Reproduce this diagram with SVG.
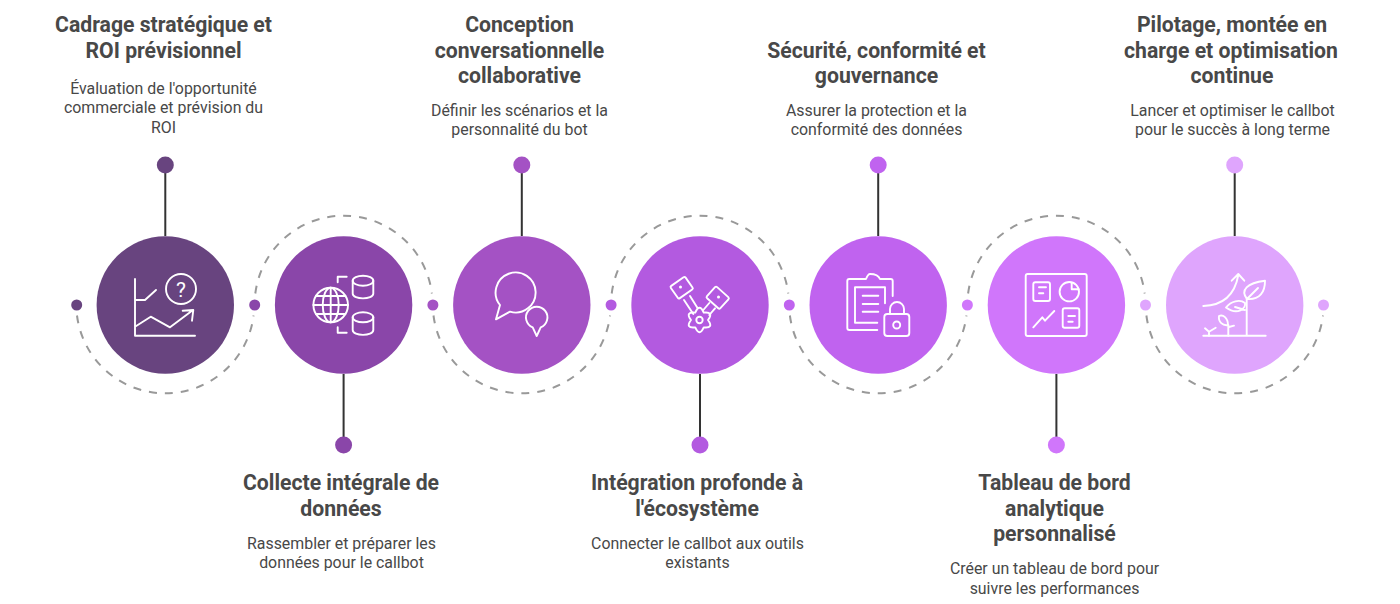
<svg xmlns="http://www.w3.org/2000/svg" width="1400" height="604" viewBox="0 0 1400 604">
<style>
.t{font-family:Roboto,"Liberation Sans",sans-serif;font-weight:700;font-size:21.2px;fill:#484848;text-anchor:middle}
.d{font-family:Roboto,"Liberation Sans",sans-serif;font-size:15.9px;fill:#484848;text-anchor:middle}
.i{fill:none;stroke:#fff;stroke-width:1.9;stroke-linecap:round;stroke-linejoin:round}
.a{fill:none;stroke:#999;stroke-width:2;stroke-dasharray:8 8}
.s{fill:none;stroke:#333;stroke-width:2}
.c1{fill:#68447f}.c2{fill:#8a46a9}.c3{fill:#a452c4}.c4{fill:#b35ae0}.c5{fill:#c063ef}.c6{fill:#d076fb}.c7{fill:#dfa5fd}
</style>
<rect width="1400" height="604" fill="#fff"/>
<g id="connectors">
<path class="a" d="M77,315.500 A89,89 0 0 0 253.600,315.500"/>
<path class="a" d="M255.300,293.500 A89,89 0 0 1 431.900,293.500"/>
<path class="a" d="M433.500,315.500 A89,89 0 0 0 610.100,315.500"/>
<path class="a" d="M611.700,293.500 A89,89 0 0 1 788.300,293.500"/>
<path class="a" d="M789.900,315.500 A89,89 0 0 0 966.500,315.500"/>
<path class="a" d="M968.100,293.500 A89,89 0 0 1 1144.700,293.500"/>
<path class="a" d="M1146.400,315.500 A89,89 0 0 0 1323,315.500"/>
<path class="s" d="M165.300,165V236M343.600,374V445M521.800,165V236M700,374V445M878.200,165V236M1056.400,374V445M1234.700,165V236"/>
<circle class="c1" cx="76.700" cy="305" r="5.500"/>
<circle class="c2" cx="254.700" cy="305" r="5.500"/>
<circle class="c3" cx="432.900" cy="305" r="5.500"/>
<circle class="c4" cx="611.100" cy="305" r="5.500"/>
<circle class="c5" cx="789.300" cy="305" r="5.500"/>
<circle class="c6" cx="967.400" cy="305" r="5.500"/>
<circle class="c7" cx="1145.500" cy="305" r="5.500"/>
<circle class="c7" cx="1323.500" cy="305" r="5.500"/>
</g>
<g id="node1">
<circle class="c1" cx="165.300" cy="305" r="68.700"/>
<circle class="c1" cx="165.300" cy="165" r="8.500"/>
<path class="i" d="M135,279V335.700H195M135,300H145L156,290M135,326.700L150.700,316.700L170,327.300L191.700,311M182.700,310.700L193.300,310L192,320.700"/>
<circle class="i" cx="181" cy="289" r="15"/>
<text x="181" y="296.500" font-family="Roboto,sans-serif" font-size="21" fill="#fff" text-anchor="middle">?</text>
<text class="t" x="163.500" y="32">Cadrage stratégique et</text>
<text class="t" x="163.500" y="57.500">ROI prévisionnel</text>
<text class="d" x="163.500" y="93.500">Évaluation de l'opportunité</text>
<text class="d" x="163.500" y="113">commerciale et prévision du</text>
<text class="d" x="163.500" y="132.500">ROI</text>
</g>
<g id="node2">
<circle class="c2" cx="343.600" cy="305" r="68.700"/>
<circle class="c2" cx="343.600" cy="445" r="8.500"/>
<g class="i">
<circle cx="330.700" cy="305" r="17.300"/>
<ellipse cx="330.700" cy="305" rx="8" ry="17.300"/>
<path d="M313.400,305H348M316,296H345.400M316,314H345.400M330.700,287.700V322.300"/>
<path d="M346.700,276.700H337.700V282.300M337.700,327.300V332.700H346.700"/>
<ellipse cx="363" cy="280.700" rx="10.300" ry="5"/>
<path d="M352.700,280.700V293.500C352.700,300 373.300,300 373.300,293.500V280.700"/>
<ellipse cx="363" cy="317.300" rx="10.300" ry="5"/>
<path d="M352.700,317.300V330C352.700,336.500 373.300,336.500 373.300,330V317.300"/>
</g>
<text class="t" x="341" y="490">Collecte intégrale de</text>
<text class="t" x="341" y="515.500">données</text>
<text class="d" x="341.500" y="549">Rassembler et préparer les</text>
<text class="d" x="341.500" y="568">données pour le callbot</text>
</g>
<g id="node3">
<circle class="c3" cx="521.800" cy="305" r="68.700"/>
<circle class="c3" cx="521.800" cy="165" r="8.500"/>
<g class="i">
<path d="M500,305L496,319.300L510,311.700A20,20 0 1 0 500,305Z"/>
<path d="M532.700,327.300L536.700,336L540.700,327.300A10.700,10.700 0 1 0 532.700,327.300Z"/>
</g>
<text class="t" x="519.500" y="32">Conception</text>
<text class="t" x="519.500" y="57.500">conversationnelle</text>
<text class="t" x="519.500" y="83">collaborative</text>
<text class="d" x="519.500" y="116">Définir les scénarios et la</text>
<text class="d" x="519.500" y="135">personnalité du bot</text>
</g>
<g id="node4">
<circle class="c4" cx="700" cy="305" r="68.700"/>
<circle class="c4" cx="700" cy="445" r="8.500"/>
<g class="i">
<rect x="-9" y="-7.500" width="18" height="15" rx="1.500" transform="translate(681.700,287.700) rotate(-35)"/>
<rect x="-9" y="-7.500" width="18" height="15" rx="1.500" transform="translate(717.700,297.700) rotate(42)"/>
<path d="M684,300L693.300,314M690,296L697.700,308.300M709.300,303L703.300,310M715,308.300L709.300,315"/>
<path transform="translate(699.500,320)" d="M8.500,0Q14.700,8.500 4.250,7.360Q0,17 -4.250,7.360Q-14.700,8.500 -8.500,0Q-14.700,-8.500 -4.250,-7.360Q0,-17 4.250,-7.360Q14.700,-8.500 8.500,0Z"/>
<circle cx="699.500" cy="320" r="3.200"/>
</g>
<circle cx="680.500" cy="287" r="1.500" fill="#fff"/>
<circle cx="718.500" cy="297" r="1.500" fill="#fff"/>
<text class="t" x="697" y="490">Intégration profonde à</text>
<text class="t" x="697" y="515.500">l'écosystème</text>
<text class="d" x="697.500" y="549">Connecter le callbot aux outils</text>
<text class="d" x="697.500" y="568">existants</text>
</g>
<g id="node5">
<circle class="c5" cx="878.200" cy="305" r="68.700"/>
<circle class="c5" cx="878.200" cy="165" r="8.500"/>
<g class="i">
<path d="M877.300,330H849.300Q847.300,330 847.300,328V281Q847.300,279 849.300,279H866Q868,274 870,274Q878,274 880,279H890.700Q892.700,279 892.700,281V296"/>
<path d="M885,303.300V287.300H855V322.700H877.300M862.700,295.700H878.300M862.700,304H878.300M862.700,311.700H878.300"/>
<rect x="884.300" y="314" width="25" height="22" rx="3"/>
<path d="M890,314V309A7,7 0 0 1 904,309V314"/>
<circle cx="896.700" cy="325" r="3.500"/>
</g>
<text class="t" x="876.500" y="57.500">Sécurité, conformité et</text>
<text class="t" x="876.500" y="83">gouvernance</text>
<text class="d" x="876.500" y="116">Assurer la protection et la</text>
<text class="d" x="876.500" y="135">conformité des données</text>
</g>
<g id="node6">
<circle class="c6" cx="1056.400" cy="305" r="68.700"/>
<circle class="c6" cx="1056.400" cy="445" r="8.500"/>
<g class="i">
<rect x="1025.700" y="274" width="61" height="62" rx="2"/>
<rect x="1033.300" y="282.300" width="16.700" height="18.700" rx="2"/>
<path d="M1039,287.300H1046M1039,293.300H1043.300"/>
<circle cx="1069.300" cy="291.700" r="9.700"/>
<path d="M1071.700,283V289.300H1078.700"/>
<path d="M1033.300,327.300L1042.300,317.300L1045,320.700L1054.300,311"/>
<rect x="1062.700" y="308.300" width="16.600" height="19.400" rx="2"/>
<path d="M1068.300,316H1075M1068.300,321.700H1072.700"/>
</g>
<text class="t" x="1054.500" y="490">Tableau de bord</text>
<text class="t" x="1054.500" y="515.500">analytique</text>
<text class="t" x="1054.500" y="541">personnalisé</text>
<text class="d" x="1054.500" y="574">Créer un tableau de bord pour</text>
<text class="d" x="1054.500" y="593.500">suivre les performances</text>
</g>
<g id="node7">
<circle class="c7" cx="1234.700" cy="305" r="68.700"/>
<circle class="c7" cx="1234.700" cy="165" r="8.500"/>
<g class="i">
<path d="M1203.300,335.700H1265.700M1246.700,335.700V298"/>
<path d="M1203.300,306Q1233,305 1238.300,275M1231.700,280.700L1238.300,274L1244.300,280.700"/>
<path d="M1247,299C1240,290 1247,283 1265,280.700C1265,292 1260,300 1247,299ZM1247,299L1258,288"/>
<path d="M1226,307.500C1231,301 1240,299 1245,303C1246,308 1238,316 1226,307.500ZM1235,307L1245,310"/>
<path d="M1228.300,335.700V325M1219,316C1223,314 1228,318 1228,325C1223,326 1218,322 1219,316ZM1229,327L1234,325.700"/>
<path d="M1205,328.300L1209,331.700L1215.700,327.700M1209,331.700V335.700"/>
</g>
<text class="t" x="1232" y="32">Pilotage, montée en</text>
<text class="t" x="1231" y="57.500">charge et optimisation</text>
<text class="t" x="1232" y="83">continue</text>
<text class="d" x="1232.500" y="116">Lancer et optimiser le callbot</text>
<text class="d" x="1232.500" y="135">pour le succès à long terme</text>
</g>
</svg>
